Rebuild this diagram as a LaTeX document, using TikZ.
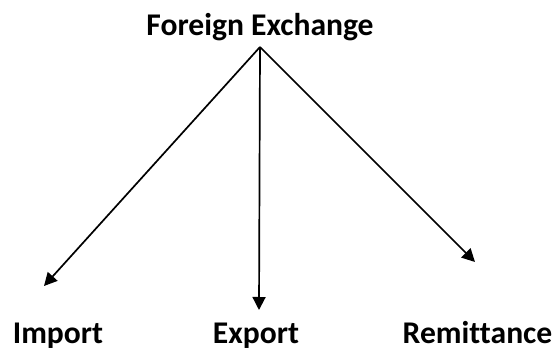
\documentclass[tikz,border=0pt]{standalone}
\usepackage{fontspec}
\setmainfont{Carlito}[Ligatures=NoCommon]
\usetikzlibrary{arrows.meta}
\begin{document}
\begin{tikzpicture}[x=1pt,y=1pt,
  lbl/.style={anchor=base,inner sep=0pt,font=\fontsize{31.6}{38}\selectfont\bfseries},
  arr/.style={line width=1.7pt,-{Triangle[length=13pt,width=13pt]}}]
\useasboundingbox (0,0) rectangle (556,-352);
\node[lbl] (title) at (260,-36) {Foreign Exchange};
\node[lbl] (import) at (58,-343) {Import};
\node[lbl] (export) at (256,-343) {Export};
\node[lbl] (remit) at (477.5,-343) {Remittance};
\coordinate (apex) at (260,-47);
\coordinate (timp) at (44,-286);
\coordinate (texp) at (259,-310);
\coordinate (trem) at (475,-262);
\draw[arr] (apex) -- (timp);
\draw[arr] (apex) -- (texp);
\draw[arr] (apex) -- (trem);
\end{tikzpicture}
\end{document}
